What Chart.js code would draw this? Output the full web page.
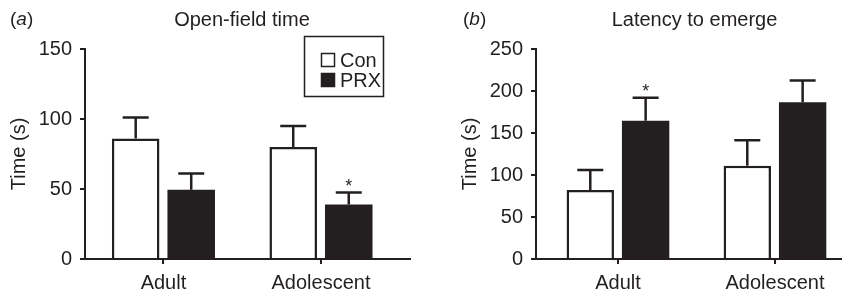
<!DOCTYPE html>
<html>
<head>
<meta charset="utf-8">
<script src="https://cdn.jsdelivr.net/npm/chart.js@4.4.1/dist/chart.umd.min.js"></script>
<style>
  html, body { margin: 0; padding: 0; background: #fff; }
  .wrap { position: relative; width: 842px; height: 297px; overflow: hidden; }
  canvas { position: absolute; top: 0; }
</style>
</head>
<body>
<div class="wrap">
  <canvas id="panel-a" width="420" height="297" style="left:0"></canvas>
  <canvas id="panel-b" width="422" height="297" style="left:420px"></canvas>
</div>
<script>
const categories = ['Adult', 'Adolescent'];
const seriesNames = ['Con', 'PRX'];

// (a) open-field time, mean and SEM (s)
const openFieldCon = [86, 80];
const openFieldConSem = [15, 15];
const openFieldPrx = [49.5, 39];
const openFieldPrxSem = [11.5, 8.5];
const openFieldPrxSig = [false, true];
const openFieldTicks = [0, 50, 100, 150];

// (b) latency to emerge, mean and SEM (s)
const latencyCon = [82, 111];
const latencyConSem = [24, 30.5];
const latencyPrx = [164.5, 186.5];
const latencyPrxSem = [27.5, 26];
const latencyPrxSig = [true, false];
const latencyTicks = [0, 50, 100, 150, 200, 250];

const INK = '#231f20';
const FONT = "'Liberation Sans', Arial, sans-serif";

Chart.defaults.font.family = FONT;
Chart.defaults.font.size = 20;
Chart.defaults.color = INK;

const toPoints = vals => vals.map((v, i) => ({ x: i, y: v }));

// upward SEM whiskers with caps, plus significance stars
const errorBars = {
  id: 'errorBars',
  afterDatasetsDraw(chart) {
    const { ctx } = chart;
    const yScale = chart.scales.y;
    ctx.save();
    ctx.strokeStyle = INK;
    ctx.fillStyle = INK;
    ctx.lineWidth = 2.5;
    chart.data.datasets.forEach((ds, i) => {
      chart.getDatasetMeta(i).data.forEach((bar, j) => {
        const top = yScale.getPixelForValue(ds.data[j].y + ds.sem[j]);
        ctx.beginPath();
        ctx.moveTo(bar.x, bar.y);
        ctx.lineTo(bar.x, top);
        ctx.moveTo(bar.x - 13, top);
        ctx.lineTo(bar.x + 13, top);
        ctx.stroke();
        if (ds.sig && ds.sig[j]) {
          ctx.font = '18px ' + FONT;
          ctx.textAlign = 'center';
          ctx.textBaseline = 'alphabetic';
          ctx.fillText('*', bar.x, top - 1);
        }
      });
    });
    ctx.restore();
  }
};

function headerPlugin(tag, tagX, title, titleX) {
  return {
    id: 'header',
    afterDraw(chart) {
      const { ctx } = chart;
      ctx.save();
      ctx.fillStyle = INK;
      ctx.textBaseline = 'alphabetic';
      ctx.textAlign = 'left';
      let x = tagX;
      ctx.font = '19px ' + FONT;
      ctx.fillText('(', x, 25);
      x += ctx.measureText('(').width;
      ctx.font = 'italic 19px ' + FONT;
      ctx.fillText(tag, x, 25);
      x += ctx.measureText(tag).width;
      ctx.font = '19px ' + FONT;
      ctx.fillText(')', x, 25);
      ctx.font = '20px ' + FONT;
      ctx.textAlign = 'center';
      ctx.fillText(title, titleX, 26);
      ctx.restore();
    }
  };
}

// boxed legend, top right of panel (a)
const boxLegend = {
  id: 'boxLegend',
  afterDraw(chart) {
    const { ctx } = chart;
    ctx.save();
    ctx.strokeStyle = INK;
    ctx.lineWidth = 1.5;
    ctx.strokeRect(304.5, 36.5, 79, 60);
    ctx.font = '20px ' + FONT;
    ctx.textBaseline = 'middle';
    ctx.textAlign = 'left';
    chart.data.datasets.forEach((ds, i) => {
      const cy = 60 + i * 20;
      ctx.fillStyle = ds.backgroundColor;
      ctx.fillRect(321, cy - 7, 14, 14);
      ctx.strokeRect(321.5, cy - 6.5, 13, 13);
      ctx.fillStyle = INK;
      ctx.fillText(ds.label, 340, cy + 1);
    });
    ctx.restore();
  }
};

function makePanel(id, cfg) {
  const plugins = [errorBars, headerPlugin(cfg.tag, cfg.tagX, cfg.title, cfg.titleX)];
  if (cfg.legend) plugins.push(boxLegend);
  return new Chart(document.getElementById(id), {
    type: 'bar',
    data: {
      datasets: [
        {
          label: seriesNames[0],
          data: toPoints(cfg.con),
          sem: cfg.conSem,
          backgroundColor: '#ffffff',
          borderColor: INK,
          borderWidth: 2.5
        },
        {
          label: seriesNames[1],
          data: toPoints(cfg.prx),
          sem: cfg.prxSem,
          sig: cfg.prxSig,
          backgroundColor: INK,
          borderColor: INK,
          borderWidth: 0
        }
      ]
    },
    options: {
      responsive: false,
      animation: false,
      events: [],
      categoryPercentage: 0.705,
      barPercentage: 0.856,
      layout: { padding: { top: 49, right: cfg.padRight, bottom: 0, left: 0 } },
      plugins: {
        legend: { display: false },
        title: { display: false },
        tooltip: { enabled: false }
      },
      scales: {
        x: {
          type: 'linear',
          min: cfg.xMin,
          max: cfg.xMax,
          offset: false,
          afterBuildTicks: s => { s.ticks = categories.map((c, i) => ({ value: i })); },
          afterFit: s => { s.height = 38; },
          ticks: {
            callback: v => categories[v],
            padding: 7,
            maxRotation: 0,
            autoSkip: false
          },
          grid: { offset: false, drawOnChartArea: false, tickLength: 5, color: INK, lineWidth: 2 },
          border: { color: INK, width: 2 }
        },
        y: {
          min: 0,
          max: cfg.ticks[cfg.ticks.length - 1],
          afterBuildTicks: s => { s.ticks = cfg.ticks.map(v => ({ value: v })); },
          afterFit: s => { s.width = cfg.axisWidth; },
          ticks: { padding: 8 },
          grid: { drawOnChartArea: false, tickLength: 5, color: INK, lineWidth: 2 },
          border: { color: INK, width: 2 },
          title: {
            display: true,
            text: 'Time (s)',
            padding: { top: cfg.titlePad, bottom: 0 }
          }
        }
      }
    },
    plugins
  });
}

makePanel('panel-a', {
  tag: 'a', tagX: 10, title: 'Open-field time', titleX: 242,
  con: openFieldCon, conSem: openFieldConSem,
  prx: openFieldPrx, prxSem: openFieldPrxSem, prxSig: openFieldPrxSig,
  ticks: openFieldTicks,
  axisWidth: 85, titlePad: 7, padRight: 10,
  xMin: -0.498, xMax: 1.565,
  legend: true
});

makePanel('panel-b', {
  tag: 'b', tagX: 43, title: 'Latency to emerge', titleX: 274.5,
  con: latencyCon, conSem: latencyConSem,
  prx: latencyPrx, prxSem: latencyPrxSem, prxSig: latencyPrxSig,
  ticks: latencyTicks,
  axisWidth: 116, titlePad: 38, padRight: 0,
  xMin: -0.522, xMax: 1.427,
  legend: false
});
</script>
</body>
</html>
